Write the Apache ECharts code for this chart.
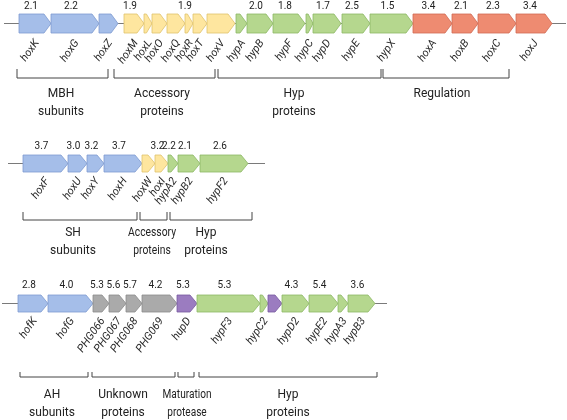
<!DOCTYPE html>
<html><head><meta charset="utf-8">
<script src="https://cdn.jsdelivr.net/npm/echarts@6/dist/echarts.min.js"></script>
<style>html,body{margin:0;padding:0;background:#fff}#c{width:567px;height:420px}</style>
</head><body><div id="c"></div>
<script>
// ---- DATA ----
// Row 1 (MBH cluster)
const row1Names = ['hoxK','hoxG','hoxZ','hoxM','hoxL','hoxO','hoxQ','hoxR','hoxT','hoxV','hypA','hypB','hypF','hypC','hypD','hypE','hypX','hoxA','hoxB','hoxC','hoxJ'];
const row1Start = [19,51,99,124,144,152,167,185,193,207,236,247,273,306,313,342,370,413,452,478,516];
const row1End   = [51,99,118,144,152,167,185,193,207,235,247,273,305,313,341,370,413,452,478,516,552];
const row1Group = ['blue','blue','blue','yellow','yellow','yellow','yellow','yellow','yellow','yellow','green','green','green','green','green','green','green','red','red','red','red'];
const row1Value = ['2.1','2.2','','1.9','','','','1.9','','','','2.0','1.8','','1.7','2.5','1.5','3.4','2.1','2.3','3.4'];
const row1Track = [4,566];
const row1BrStart = [17,114,218,383];
const row1BrEnd   = [108,215,381,509];
const row1BrLabel = ['MBH\nsubunits','Accessory\nproteins','Hyp\nproteins','Regulation'];

// Row 2 (SH cluster)
const row2Names = ['hoxF','hoxU','hoxY','hoxH','hoxW','hoxI','hypA2','hypB2','hypF2'];
const row2Start = [23,68,87,104,142,155,168,178,200];
const row2End   = [68,87,104,142,155,168,178,200,248];
const row2Group = ['blue','blue','blue','blue','yellow','yellow','green','green','green'];
const row2Value = ['3.7','3.0','3.2','3.7','','3.2','2.2','2.1','2.6'];
const row2Track = [8,265];
const row2BrStart = [23,140,170];
const row2BrEnd   = [137,167,252];
const row2BrLabel = ['SH\nsubunits','Accessory\nproteins','Hyp\nproteins'];

// Row 3 (AH cluster)
const row3Names = ['hofK','hofG','PHG066','PHG067','PHG068','PHG069','hupD','hypF3','hypC2','','hypD2','hypE2','hypA3','hypB3'];
const row3Start = [18,48,93,109,126,142,177,197,260,268,282,309,338,348];
const row3End   = [48,93,109,126,142,177,197,260,268,282,309,338,348,375];
const row3Group = ['blue','blue','gray','gray','gray','gray','purple','green','green','purple','green','green','green','green'];
const row3Value = ['2.8','4.0','5.3','5.6','5.7','4.2','5.3','5.3','','','4.3','5.4','','3.6'];
const row3Track = [2,387];
const row3BrStart = [20,92,178,199];
const row3BrEnd   = [88,175,194,377];
const row3BrLabel = ['AH\nsubunits','Unknown\nproteins','Maturation\nprotease','Hyp\nproteins'];

// ---- LAYOUT / STYLE ----
const COLORS = {
  blue:   {fill:'#a5bee9', stroke:'#7d9ad0'},
  yellow: {fill:'#fee69f', stroke:'#e0c36d'},
  green:  {fill:'#b5d78e', stroke:'#8db764'},
  red:    {fill:'#ee8b71', stroke:'#d06a53'},
  gray:   {fill:'#aaaaaa', stroke:'#8a8a8a'},
  purple: {fill:'#9b7cc0', stroke:'#76589e'}
};
const LAYOUT = [
  {trackY:23.5, h:19, numY:6, labelY:41, brTop:69, brBot:78, textY:94, labelX:[61,162,294,442], labelScale:[1,1,1,1]},
  {trackY:163.5, h:17, numY:146, labelY:179, brTop:212, brBot:220, textY:233, labelX:[73,152,206], labelScale:[1,0.86,1]},
  {trackY:303.5, h:17, numY:285, labelY:319, brTop:372, brBot:377, textY:395, labelX:[52,123,187,288], labelScale:[1,1,0.84,1]}
];
const FONT = 'Roboto, "Noto Sans", sans-serif';

const rows = [
  {names:row1Names,start:row1Start,end:row1End,group:row1Group,value:row1Value,track:row1Track,bs:row1BrStart,be:row1BrEnd,bl:row1BrLabel},
  {names:row2Names,start:row2Start,end:row2End,group:row2Group,value:row2Value,track:row2Track,bs:row2BrStart,be:row2BrEnd,bl:row2BrLabel},
  {names:row3Names,start:row3Start,end:row3End,group:row3Group,value:row3Value,track:row3Track,bs:row3BrStart,be:row3BrEnd,bl:row3BrLabel}
];

const chart = echarts.init(document.getElementById('c'), null, {renderer:'canvas'});
const series = [];

rows.forEach((row, r) => {
  const L = LAYOUT[r];
  // track line
  series.push({
    type:'custom', coordinateSystem:'cartesian2d', silent:true, z:1,
    data:[[row.track[0], row.track[1]]],
    renderItem:(params, api) => {
      const p1 = api.coord([api.value(0), L.trackY]);
      const p2 = api.coord([api.value(1), L.trackY]);
      return {type:'line', shape:{x1:p1[0],y1:p1[1],x2:p2[0],y2:p2[1]}, style:{stroke:'#7a7a7a', lineWidth:1.2}};
    }
  });
  // genes
  series.push({
    type:'custom', coordinateSystem:'cartesian2d', silent:true, z:2,
    data: row.names.map((n,i)=>[row.start[i], row.end[i]]),
    renderItem:(params, api) => {
      const i = params.dataIndex;
      const s = api.value(0), e = api.value(1);
      const w = e - s;
      const tip = Math.min(7, w*0.7);
      const yT = L.trackY - L.h/2, yB = L.trackY + L.h/2;
      const pts = [[s,yT],[e-tip,yT],[e,L.trackY],[e-tip,yB],[s,yB]].map(p=>api.coord(p));
      const c = COLORS[row.group[i]];
      const children = [{
        type:'polygon', shape:{points:pts},
        style:{fill:c.fill, stroke:c.stroke, lineWidth:0.8}
      }];
      const mid = (s+e)/2;
      if (row.names[i]) {
        const a = api.coord([mid+2, L.labelY]);
        children.push({
          type:'text', x:a[0], y:a[1], rotation: 55*Math.PI/180,
          style:{text:row.names[i], align:'right', verticalAlign:'middle', fill:'#2a2a2a', font:'italic 11px '+FONT}
        });
      }
      if (row.value[i]) {
        const b = api.coord([mid-4, L.numY]);
        children.push({
          type:'text', x:b[0], y:b[1],
          style:{text:row.value[i], align:'center', verticalAlign:'middle', fill:'#222', font:'10px '+FONT}
        });
      }
      return {type:'group', children};
    }
  });
  // brackets + group labels
  series.push({
    type:'custom', coordinateSystem:'cartesian2d', silent:true, z:2,
    data: row.bs.map((b,i)=>[b, row.be[i]]),
    renderItem:(params, api) => {
      const i = params.dataIndex;
      const s = api.value(0), e = api.value(1);
      const pts = [[s,L.brTop],[s,L.brBot],[e,L.brBot],[e,L.brTop]].map(p=>api.coord(p));
      const t = api.coord([L.labelX[i], L.textY]);
      return {type:'group', children:[
        {type:'polyline', shape:{points:pts}, style:{stroke:'#444', lineWidth:1, fill:null}},
        {type:'text', x:t[0], y:t[1]-9, scaleX:L.labelScale[i], style:{text:row.bl[i], align:'center', verticalAlign:'top', lineHeight:18, fill:'#222', font:'12px '+FONT}}
      ]};
    }
  });
});

chart.setOption({
  animation:false,
  grid:{left:0,right:0,top:0,bottom:0},
  xAxis:{type:'value', min:0, max:567, show:false},
  yAxis:{type:'value', min:0, max:420, inverse:true, show:false},
  series
});
</script>
</body></html>
